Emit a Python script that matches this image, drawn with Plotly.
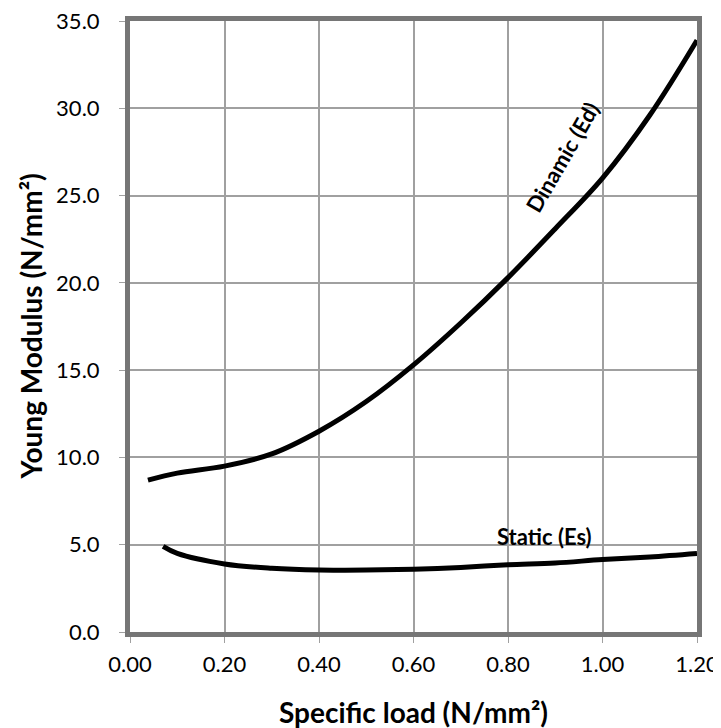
import plotly.graph_objects as go

dyn_x = [0.038, 0.10, 0.20, 0.30, 0.40, 0.50, 0.60, 0.70, 0.80, 0.90, 1.00, 1.10, 1.20]
dyn_y = [8.7, 9.1, 9.5, 10.2, 11.5, 13.2, 15.3, 17.7, 20.3, 23.1, 26.0, 29.6, 33.9]
sta_x = [0.07, 0.10, 0.20, 0.30, 0.40, 0.50, 0.60, 0.70, 0.80, 0.90, 1.00, 1.10, 1.20]
sta_y = [4.9, 4.5, 3.9, 3.65, 3.55, 3.55, 3.6, 3.7, 3.85, 3.95, 4.15, 4.3, 4.5]

x_ticks = [0.0, 0.2, 0.4, 0.6, 0.8, 1.0, 1.2]
y_ticks = [0, 5, 10, 15, 20, 25, 30, 35]

font = "Lato, 'Open Sans', sans-serif"

fig = go.Figure()
fig.add_trace(go.Scatter(x=dyn_x, y=dyn_y, mode="lines", line=dict(color="black", width=5, shape="spline"), showlegend=False))
fig.add_trace(go.Scatter(x=sta_x, y=sta_y, mode="lines", line=dict(color="black", width=5, shape="spline"), showlegend=False))

fig.add_annotation(x=0.914, y=27.2, text="<b>Dinamic (Ed)</b>", showarrow=False, textangle=-60,
                   font=dict(family=font, size=22, color="black"))
fig.add_annotation(x=0.878, y=5.45, text="<b>Static (Es)</b>", showarrow=False,
                   font=dict(family=font, size=22, color="black"))

# axis titles
fig.add_annotation(xref="paper", yref="paper", x=0.5, y=0, yshift=-80, yanchor="middle",
                   text="<b>Specific load (N/mm²)</b>", showarrow=False,
                   font=dict(family=font, size=28, color="black"))
fig.add_annotation(xref="paper", yref="paper", x=0, y=0.5, xshift=-100, xanchor="center",
                   text="<b>Young Modulus (N/mm²)</b>", showarrow=False, textangle=-90,
                   font=dict(family=font, size=28, color="black"))

fig.update_layout(
    width=713, height=720,
    margin=dict(l=122, r=24, t=13, b=96),
    plot_bgcolor="white", paper_bgcolor="white",
    font=dict(family=font, size=22, color="black"),
    xaxis=dict(range=[0, 1.2], tickvals=x_ticks, ticktext=[f"{v:.2f}" for v in x_ticks],
               showgrid=True, gridcolor="#a0a0a0", gridwidth=2,
               showline=True, linecolor="#767676", linewidth=5, mirror=True,
               ticks="outside", ticklen=6, tickcolor="#a0a0a0", tickwidth=1,
               zeroline=False, automargin=False, ticklabelstandoff=3,
               ticklabeloverflow="allow"),
    yaxis=dict(range=[0, 35], tickvals=y_ticks, ticktext=[f"{v:.1f}" for v in y_ticks],
               showgrid=True, gridcolor="#a0a0a0", gridwidth=2,
               showline=True, linecolor="#767676", linewidth=5, mirror=True,
               ticks="outside", ticklen=6, tickcolor="#a0a0a0", tickwidth=1,
               zeroline=False, automargin=False, ticklabelstandoff=15,
               ticklabeloverflow="allow"),
)

fig.write_html("out.html")
